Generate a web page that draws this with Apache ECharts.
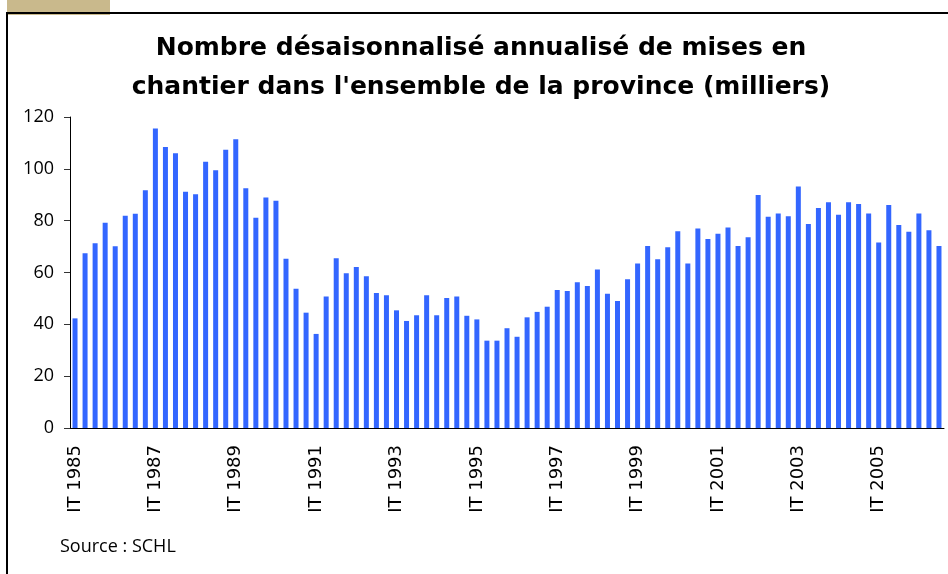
<!DOCTYPE html>
<html>
  <head>
    <meta charset="utf-8" />
    <title>Mises en chantier</title>
    <style type="text/css">
      html,
      body {
        width: 100%;
        height: 100%;
        margin: 0px;
        background: #fff;
      }
      #tab {
        position: absolute;
        left: 7px;
        top: 0px;
        width: 103px;
        height: 15px;
        background: #c9b98c;
      }
      #frame {
        position: absolute;
        left: 6px;
        top: 12px;
        right: 0px;
        bottom: 0px;
        border-left: 2px solid #000;
        border-top: 2px solid #000;
      }
      #chart {
        position: absolute;
        left: 0px;
        top: 0px;
        width: 948px;
        height: 574px;
      }
    </style>
    <script type="text/javascript" src="https://cdn.jsdelivr.net/npm/echarts@6/dist/echarts.min.js"></script>
  </head>

  <body>
    <div id="tab"></div>
    <div id="frame"></div>
    <div id="chart"></div>
    <script>
      // trimestres 1985 T1 -> 2006 T3
      const years = [1985, 1986, 1987, 1988, 1989, 1990, 1991, 1992, 1993, 1994, 1995,
        1996, 1997, 1998, 1999, 2000, 2001, 2002, 2003, 2004, 2005, 2006];
      const quarters = ['IT', 'IIT', 'IIIT', 'IVT'];
      const lastQuarters = 3; // 2006 : trois trimestres

      // mises en chantier désaisonnalisées annualisées (milliers)
      const starts = [
        42.3, 67.4, 71.3, 79.2,
        70.1, 81.9, 82.7, 91.7,
        115.6, 108.4, 106.0, 91.2,
        90.2, 102.7, 99.5, 107.4,
        111.4, 92.5, 81.1, 88.9,
        87.7, 65.3, 53.7, 44.5,
        36.3, 50.7, 65.5, 59.7,
        62.1, 58.6, 52.1, 51.2,
        45.4, 41.3, 43.5, 51.2,
        43.5, 50.2, 50.7, 43.3,
        41.9, 33.7, 33.7, 38.5,
        35.2, 42.7, 44.8, 46.8,
        53.2, 52.9, 56.2, 54.8,
        61.2, 51.8, 49.0, 57.4,
        63.5, 70.2, 65.1, 69.7,
        75.9, 63.5, 77.0, 72.9,
        75.0, 77.4, 70.2, 73.6,
        89.9, 81.5, 82.8, 81.7,
        93.2, 78.7, 84.9, 87.1,
        82.3, 87.1, 86.4, 82.8,
        71.6, 86.0, 78.3, 75.7,
        82.8, 76.3, 70.2
      ];

      const categories = [];
      years.forEach((y, i) => {
        const n = i === years.length - 1 ? lastQuarters : 4;
        for (let q = 0; q < n; q++) {
          categories.push(quarters[q] + ' ' + y);
        }
      });

      const font = '"DejaVu Sans", "Open Sans", sans-serif';
      const chart = echarts.init(document.getElementById('chart'), null, { renderer: 'canvas' });

      const option = {
        animation: false,
        title: [
          {
            text: 'Nombre désaisonnalisé annualisé de mises en\nchantier dans l\'ensemble de la province (milliers)',
            left: 481,
            textAlign: 'center',
            top: 29,
            padding: 0,
            textStyle: {
              fontFamily: font,
              fontSize: 25,
              fontWeight: 'bold',
              color: '#000',
              lineHeight: 39
            }
          },
          {
            text: 'Source : SCHL',
            left: 60,
            top: 538,
            padding: 0,
            textStyle: {
              fontFamily: '"Open Sans", sans-serif',
              fontSize: 18,
              fontWeight: 'normal',
              color: '#000'
            }
          }
        ],
        grid: {
          left: 70,
          right: 4,
          top: 117,
          bottom: 146,
          containLabel: false
        },
        xAxis: {
          type: 'category',
          data: categories,
          boundaryGap: true,
          axisLine: { lineStyle: { color: '#000', width: 1 } },
          axisTick: {
            interval: 3,
            length: 6,
            lineStyle: { color: '#333' }
          },
          axisLabel: {
            interval: 7,
            rotate: 90,
            margin: 17,
            fontFamily: font,
            fontSize: 18,
            color: '#000'
          }
        },
        yAxis: {
          type: 'value',
          min: 0,
          max: 120,
          interval: 20,
          splitLine: { show: false },
          axisLine: { show: true, lineStyle: { color: '#000', width: 1 } },
          axisTick: { show: true, length: 6, lineStyle: { color: '#333' } },
          axisLabel: {
            margin: 16,
            fontFamily: '"Open Sans", sans-serif',
            fontSize: 18,
            color: '#000'
          }
        },
        series: [
          {
            type: 'bar',
            data: starts,
            barWidth: 5,
            itemStyle: {
              color: '#3366ff'
            }
          }
        ]
      };

      chart.setOption(option);
    </script>
  </body>
</html>
